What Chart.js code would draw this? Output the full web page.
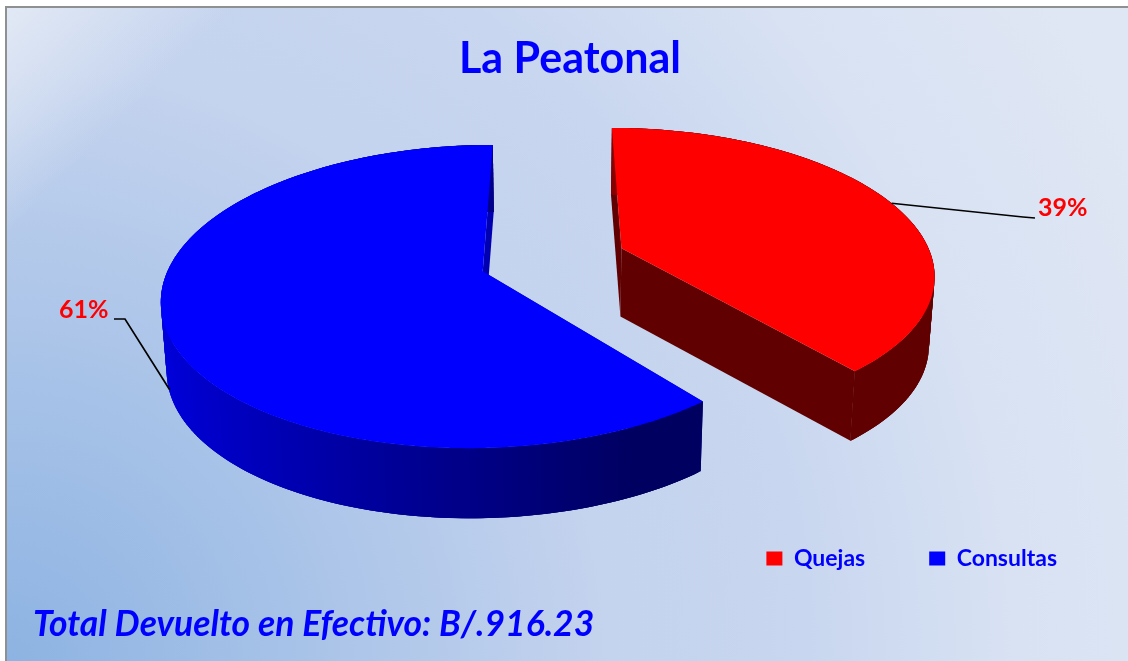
<!DOCTYPE html>
<html>
<head>
<meta charset="utf-8">
<title>La Peatonal</title>
<script src="https://cdn.jsdelivr.net/npm/chart.js@4"></script>
<style>
  html, body { margin: 0; padding: 0; background: #fff; overflow: hidden; }
  #frame {
    position: absolute; left: 5px; top: 6px; width: 1200px; height: 720px;
    border: 2px solid #8e9092; box-sizing: border-box;
    background:
      linear-gradient(135deg, #e2e9f5 0, rgba(226,233,245,0) 160px),
      radial-gradient(circle at 0 655px, #8db3e2 0, #c4d3ee 600px, #c8d6ef 800px, #d8e2f3 1010px, #e0e7f4 1270px);
  }
  #chart { position: absolute; left: 0; top: 0; }
</style>
</head>
<body>
<div id="frame"></div>
<canvas id="chart" width="1128" height="661"></canvas>
<script>
// La Peatonal - exploded 3D pie
const categories = ["Quejas", "Consultas"];
const shares = [39, 61];
const sliceColors = ["#ff0000", "#0000ff"];
const chartTitle = "La Peatonal";
const totalNote = "Total Devuelto en Efectivo: B/.916.23";

// camera used to tilt the pie the library lays out
const view = { cx: 553, cy: 259.5, a: 311, b: 143.5, k: 0.165, depth: 68.5, explode: 0.237 };
const cutShades = [0.38, 0.7];

const mix = (hex, shade) => {
    const n = parseInt(hex.slice(1), 16);
    return `rgb(${((n >> 16) & 255) * shade | 0},${((n >> 8) & 255) * shade | 0},${(n & 255) * shade | 0})`;
};

// angle + height -> screen, with the slice pulled out along its middle
const project = (arc, theta, r, z) => {
    const mid = (arc.startAngle + arc.endAngle) / 2 + Math.PI / 2;
    const u = view.explode * Math.sin(mid) + r * Math.sin(theta);
    const v = -view.explode * Math.cos(mid) - r * Math.cos(theta);
    const w = 1 - view.k * v;
    const squeeze = 1 - 0.015 * z;
    return {
        x: view.cx + view.a * u / w * squeeze,
        y: view.cy + view.b * v / w + (view.depth + 1.5 * v) * z,
        v: v
    };
};

const fillPoly = (ctx, pts, color) => {
    ctx.beginPath();
    pts.forEach((p, i) => i ? ctx.lineTo(p.x, p.y) : ctx.moveTo(p.x, p.y));
    ctx.closePath();
    ctx.fillStyle = color;
    ctx.fill();
};

const drawSlice = (ctx, arc, color, cutShade) => {
    const from = arc.startAngle + Math.PI / 2;
    const to = arc.endAngle + Math.PI / 2;
    const steps = Math.ceil((to - from) / 0.01);
    const angleAt = i => from + (to - from) * i / steps;

    // cut faces
    [from, to].forEach(t => {
        fillPoly(ctx, [project(arc, t, 0, 0), project(arc, t, 1, 0), project(arc, t, 1, 1), project(arc, t, 0, 1)], mix(color, cutShade));
    });

    // outer wall, back strips first, each one overlapping the next
    const strips = [];
    for (let i = 0; i < steps; i++) strips.push(i);
    strips.sort((p, q) => project(arc, angleAt(p), 1, 0).v - project(arc, angleAt(q), 1, 0).v);
    strips.forEach(i => {
        const t0 = angleAt(i), t1 = angleAt(Math.min(i + 3, steps));
        const shade = Math.max(0.38, 0.88 - 0.345 * (Math.sin(t0) + 1));
        fillPoly(ctx, [project(arc, t0, 1, 0), project(arc, t1, 1, 0), project(arc, t1, 1, 1), project(arc, t0, 1, 1)], mix(color, shade));
    });

    // top face
    const top = [project(arc, from, 0, 0)];
    for (let i = 0; i <= steps; i++) top.push(project(arc, angleAt(i), 1, 0));
    fillPoly(ctx, top, color);
};

const drawLeader = (ctx, arc, z, elbow, end, text, textX, textY) => {
    const mid = (arc.startAngle + arc.endAngle) / 2 + Math.PI / 2;
    const p = project(arc, mid, 1, z);
    ctx.beginPath();
    ctx.moveTo(p.x, p.y);
    ctx.lineTo(elbow.x, elbow.y);
    ctx.lineTo(end.x, end.y);
    ctx.strokeStyle = "#000";
    ctx.lineWidth = 1.7;
    ctx.stroke();
    ctx.fillStyle = "#ff0000";
    ctx.font = "bold 25px Lato";
    ctx.textAlign = "left";
    ctx.textBaseline = "middle";
    ctx.fillText(text, textX, textY);
};

const pie3d = {
    id: "pie3d",
    beforeDatasetDraw(chart, args) {
        const ctx = chart.ctx;
        const arcs = args.meta.data;
        ctx.save();
        arcs.forEach((arc, i) => drawSlice(ctx, arc, sliceColors[i], cutShades[i]));
        drawLeader(ctx, arcs[0], 0, { x: 1023, y: 217 }, { x: 1035, y: 218 }, shares[0] + "%", 1038, 208);
        drawLeader(ctx, arcs[1], 0.95, { x: 125, y: 319 }, { x: 114, y: 319 }, shares[1] + "%", 59, 310);
        ctx.restore();
        return false;
    },
    afterDraw(chart) {
        const ctx = chart.ctx;
        ctx.save();
        ctx.fillStyle = "#0000ff";
        ctx.font = "italic bold 35.5px Lato";
        ctx.textAlign = "left";
        ctx.textBaseline = "middle";
        ctx.fillText(totalNote, 33, 625);
        ctx.restore();
    }
};

new Chart(document.getElementById("chart").getContext("2d"), {
    type: "pie",
    data: {
        labels: categories,
        datasets: [{ data: shares, backgroundColor: sliceColors, borderWidth: 0 }]
    },
    options: {
        responsive: false,
        animation: false,
        layout: { padding: { left: 19, right: 7, top: 33, bottom: 81 } },
        plugins: {
            tooltip: { enabled: false },
            title: {
                display: true,
                text: chartTitle,
                color: "#0000ff",
                font: { family: "Lato", size: 43, weight: "bold" },
                padding: { top: 0, bottom: 10 }
            },
            legend: {
                position: "bottom",
                align: "end",
                labels: {
                    color: "#0000ff",
                    font: { family: "Lato", size: 23, weight: "bold" },
                    boxWidth: 16,
                    boxHeight: 14,
                    padding: 64
                }
            }
        }
    },
    plugins: [pie3d]
});
</script>
</body>
</html>
